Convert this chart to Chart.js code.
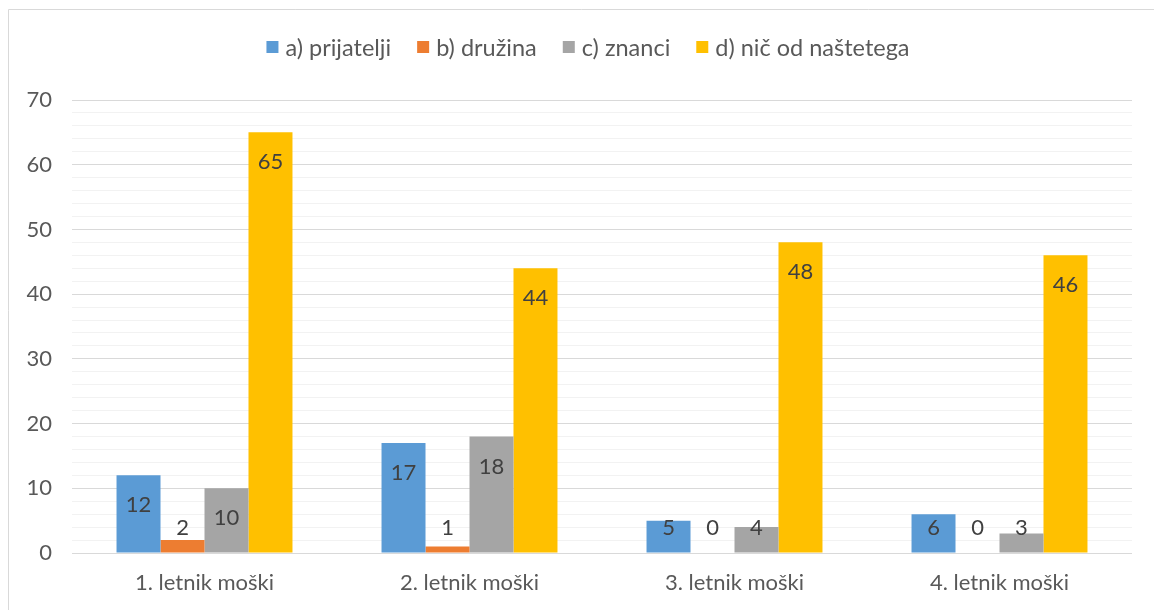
<!DOCTYPE html>
<html>
<head>
<meta charset="utf-8">
<script src="https://cdn.jsdelivr.net/npm/chart.js@4/dist/chart.umd.min.js"></script>
<style>
  html, body { margin: 0; padding: 0; background: #fff; }
  #wrap { position: relative; width: 1154px; height: 610px; }
</style>
</head>
<body>
<div id="wrap"><canvas id="chart"></canvas></div>
<script>
// ---- data ----
const categories = ["1. letnik moški", "2. letnik moški", "3. letnik moški", "4. letnik moški"];
const seriesNames = ["a) prijatelji", "b) družina", "c) znanci", "d) nič od naštetega"];
const prijatelji = [12, 17, 5, 6];
const druzina = [2, 1, 0, 0];
const znanci = [10, 18, 4, 3];
const nicOdNastetega = [65, 44, 48, 46];
const seriesColors = ["#5B9BD5", "#ED7D31", "#A5A5A5", "#FFC000"];

const FONT = "Lato";
const TEXT = "#595959";

// thin frame around the chart (top + left visible)
const framePlugin = {
    id: "frame",
    beforeDraw(chart) {
        const ctx = chart.ctx;
        ctx.save();
        ctx.strokeStyle = "#d9d9d9";
        ctx.lineWidth = 1;
        ctx.beginPath();
        ctx.moveTo(8.5, 620);
        ctx.lineTo(8.5, 9.5);
        ctx.lineTo(1160, 9.5);
        ctx.stroke();
        ctx.restore();
    }
};

// simple legend drawn in one centered row
const legendRow = {
    id: "legendRow",
    afterDraw(chart) {
        const ctx = chart.ctx;
        const box = 12, gapText = 7, gapItem = 26, cy = 47, centerX = 588;
        ctx.save();
        ctx.font = "23.5px " + FONT;
        ctx.textBaseline = "middle";
        const widths = chart.data.datasets.map(ds => ctx.measureText(ds.label).width);
        let total = 0;
        widths.forEach((w, i) => { total += box + gapText + w + (i ? gapItem : 0); });
        let x = centerX - total / 2;
        chart.data.datasets.forEach((ds, i) => {
            ctx.fillStyle = ds.backgroundColor;
            ctx.fillRect(x, cy - box / 2, box, box);
            ctx.fillStyle = TEXT;
            ctx.fillText(ds.label, x + box + gapText, cy + 1);
            x += box + gapText + widths[i] + gapItem;
        });
        ctx.restore();
    }
};

// value labels near the top inside each bar
const valueLabels = {
    id: "valueLabels",
    afterDatasetsDraw(chart) {
        const ctx = chart.ctx;
        ctx.save();
        ctx.font = "22px " + FONT;
        ctx.fillStyle = "#404040";
        ctx.textAlign = "center";
        ctx.textBaseline = "middle";
        chart.data.datasets.forEach((ds, i) => {
            const meta = chart.getDatasetMeta(i);
            meta.data.forEach((bar, j) => {
                const y = Math.min(bar.y + 30, bar.base - 25);
                ctx.fillText(String(ds.data[j]), bar.x, y);
            });
        });
        ctx.restore();
    }
};

const seriesData = [prijatelji, druzina, znanci, nicOdNastetega];

new Chart(document.getElementById("chart"), {
    type: "bar",
    data: {
        labels: categories,
        datasets: seriesData.map((d, i) => ({
            label: seriesNames[i],
            data: d,
            backgroundColor: seriesColors[i],
            barPercentage: 1,
            categoryPercentage: 0.664
        }))
    },
    options: {
        responsive: true,
        maintainAspectRatio: false,
        animation: false,
        layout: { padding: { top: 100, right: 22, bottom: 10, left: 0 } },
        plugins: {
            tooltip: { enabled: false },
            legend: { display: false }
        },
        scales: {
            x: {
                grid: { display: false },
                border: { display: false },
                ticks: { font: { family: FONT, size: 22 }, color: TEXT, padding: 9 },
                afterFit(scale) { scale.height = 47; }
            },
            y: {
                min: 0,
                max: 70,
                border: { display: false },
                grid: {
                    drawTicks: false,
                    color: ctx => (ctx.tick && ctx.tick.value % 10 === 0) ? "#d9d9d9" : "#f2f2f2",
                    lineWidth: 1
                },
                ticks: {
                    stepSize: 2,
                    autoSkip: false,
                    padding: 20,
                    font: { family: FONT, size: 22 },
                    color: TEXT,
                    callback: v => (v % 10 === 0 ? String(v) : "")
                },
                afterFit(scale) { scale.width = 72; }
            }
        }
    },
    plugins: [framePlugin, legendRow, valueLabels]
});
</script>
</body>
</html>
